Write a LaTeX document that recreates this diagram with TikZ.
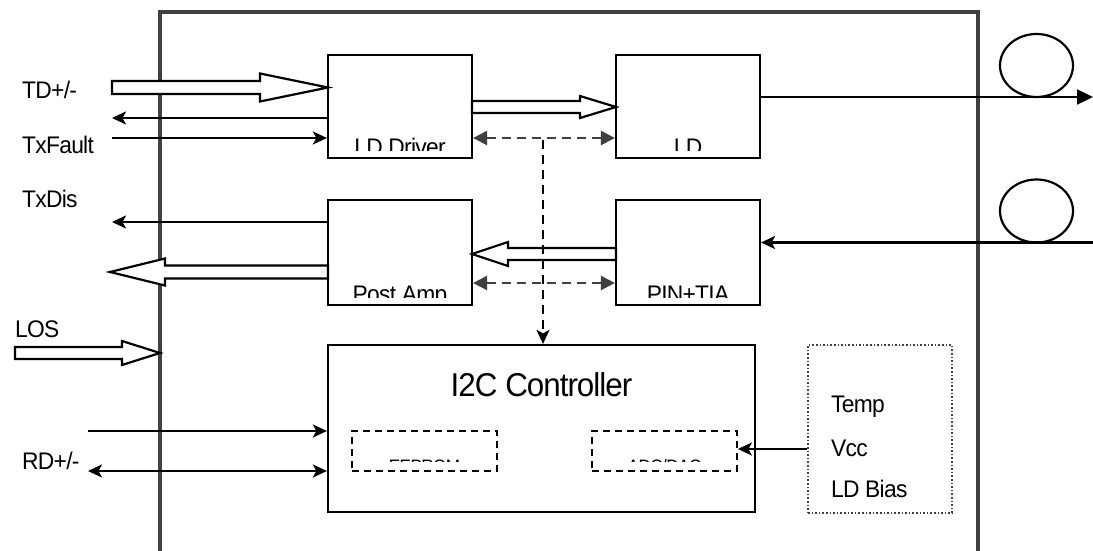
\documentclass[tikz,border=0pt]{standalone}
\usepackage{fontspec}
\setmainfont{Liberation Sans}[FakeStretch=0.95, LetterSpace=-3]
\usetikzlibrary{arrows.meta,calc,shapes.geometric}
\definecolor{dk}{HTML}{404040}
\newcommand{\hollow}[6]{% tail x, tip x, y, head start x, band half, head half
  \draw[hol] ({#1},{#3-#5}) -- ({#4},{#3-#5}) -- ({#4},{#3-#6}) -- ({#2},{#3})
    -- ({#4},{#3+#6}) -- ({#4},{#3+#5}) -- ({#1},{#3+#5}) -- cycle;}
\begin{document}
\begin{tikzpicture}[x=1pt,y=-1pt,
  blk/.style={draw, line width=2.2pt, minimum width=144pt, minimum height=103pt, inner sep=0pt},
  lbl/.style={font=\fontsize{24}{26}\selectfont, inner sep=0pt},
  small/.style={font=\fontsize{18}{22}\selectfont, inner sep=0pt},
  arr/.style={line width=2.4pt, -{Stealth[length=14pt,width=13pt,inset=3.5pt]}},
  arrb/.style={line width=2.4pt, {Stealth[length=14pt,width=13pt,inset=3.5pt]}-{Stealth[length=14pt,width=13pt,inset=3.5pt]}},
  darr/.style={line width=2.4pt, draw=dk, dash pattern=on 9pt off 6pt,
    {Triangle[length=14pt,width=14pt]}-{Triangle[length=14pt,width=14pt]}},
  dvert/.style={line width=2.4pt, draw=black, dash pattern=on 9pt off 6pt,
    -{Stealth[length=14pt,width=13pt,inset=3.5pt]}},
  hol/.style={draw, line width=2.2pt, fill=white, line join=miter},
  dbox/.style={draw, line width=1.8pt, dash pattern=on 7pt off 5pt, minimum width=145pt, minimum height=40pt, inner sep=0pt},
  fiber/.style={draw, ellipse, line width=2.2pt, minimum width=73pt, minimum height=63pt, inner sep=0pt}]
\useasboundingbox[fill=white] (0,0) rectangle (1093,551);

% main frame
\draw[line width=4.5pt, draw=dk] (160,551) -- (160,12) -- (978,12) -- (978,551);

% blocks
\node[blk] (LDD) at (400,106.5) {};
\node[blk] (LD)  at (688,106.5) {};
\node[blk, minimum height=105pt] (PA)  at (400,252.5) {};
\node[blk, minimum height=105pt] (PIN) at (688,252.5) {};
\node[draw, line width=2.2pt, minimum width=427pt, minimum height=167pt, inner sep=0pt] (I2C) at (541.5,428.5) {};
\node[dbox] (EE)  at (424.5,451) {};
\node[dbox] (ADC) at (664.5,451) {};
\node[draw=dk, line width=1.6pt, dotted, minimum width=144pt, minimum height=168pt, inner sep=0pt] (SENS) at (880,429) {};

% clipped block labels
\foreach \b/\t in {LDD/LD Driver, LD/LD, PA/Post Amp, PIN/PIN+TIA}{
  \begin{scope}
    \clip ($(\b.south west)+(0,-9)$) rectangle (\b.north east);
    \node[lbl, anchor=base] (t\b) at ($(\b.south)+(0,-3.5)$) {\t};
  \end{scope}
}
\begin{scope}
  \clip ($(EE.south west)+(0,-10)$) rectangle (EE.north east);
  \node[small, anchor=base] (tEE) at ($(EE.south)+(0,1)$) {EEPROM};
\end{scope}
\begin{scope}
  \clip ($(ADC.south west)+(0,-10)$) rectangle (ADC.north east);
  \node[small, anchor=base] (tADC) at ($(ADC.south)+(0,1)$) {ADC/DAC};
\end{scope}

\node[font=\fontsize{33}{36}\selectfont, inner sep=0pt, anchor=base] (tI2C) at (541.5,396) {I2C Controller};

\node[lbl, anchor=base west] (tTemp) at (831,412) {Temp};
\node[lbl, anchor=base west] (tVcc)  at (831,456) {Vcc};
\node[lbl, anchor=base west] (tBias) at (831,497) {LD Bias};

% left labels
\node[lbl, anchor=base west] (lTD)  at (22,99)  {TD+/-};
\node[lbl, anchor=base west] (lTF)  at (22,153) {TxFault};
\node[lbl, anchor=base west] (lTX)  at (22,207) {TxDis};
\node[lbl, anchor=base west] (lLOS) at (15,337) {LOS};
\node[lbl, anchor=base west] (lRD)  at (22,469) {RD+/-};

% hollow arrows
\hollow{112}{328}{87.5}{260}{6.5}{14}
\hollow{472}{616}{107}{580}{6}{11}
\hollow{616}{472}{254}{508}{6}{12}
\hollow{328}{110}{272}{165}{6.5}{13.5}
\hollow{15}{160}{353}{122}{6}{12}

% left thin arrows
\coordinate (txo) at (112,118);
\coordinate (txf) at (112,138);
\coordinate (txd) at (112,222);
\coordinate (rd1) at (88,431);
\coordinate (rd2) at (88,471);
\draw[arr] (LDD.west |- txo) -- (txo);
\draw[arr] (txf) -- (LDD.west |- txf);
\draw[arr] (PA.west |- txd) -- (txd);
\draw[arr] (rd1) -- (I2C.west |- rd1);
\draw[arrb] (rd2) -- (I2C.west |- rd2);

% dashed control arrows
\coordinate (d1) at (0,138);
\coordinate (d2) at (0,283);
\coordinate (dv) at (543,140);
\draw[darr] (LDD.east |- d1) -- (LD.west |- d1);
\draw[darr] (PA.east |- d2) -- (PIN.west |- d2);
\draw[dvert] (dv) -- (I2C.north -| dv);

% sensors to ADC
\coordinate (sv) at (0,449);
\draw[arr] (SENS.west |- sv) -- (ADC.east |- sv);

% fibers
\node[fiber] (F1) at (1036.5,65.5) {};
\node[fiber] (F2) at (1036.5,211) {};
\coordinate (fo) at (1093,97);
\coordinate (fi) at (1093,242.5);
\draw[line width=2.4pt, -{Triangle[length=16pt,width=15pt]}] (LD.east |- fo) -- (fo);
\draw[arr] (fi) -- (PIN.east |- fi);
\end{tikzpicture}
\end{document}
